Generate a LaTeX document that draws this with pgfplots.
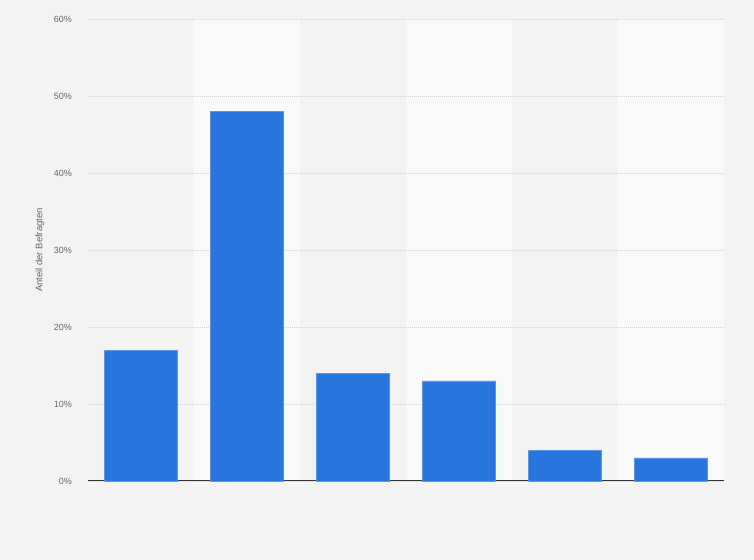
\documentclass[border=0pt]{standalone}
\usepackage{pgfplots}
\pgfplotsset{compat=1.18}
\usepackage{fontspec}
\setmainfont{Liberation Sans}

\definecolor{bgcol}{HTML}{F3F3F3}
\definecolor{bandcol}{HTML}{F9F9F9}
\definecolor{barcol}{HTML}{2876DD}
\definecolor{baredge}{HTML}{5A96E6}
\definecolor{gridcol}{HTML}{D2D2D2}
\definecolor{labcol}{HTML}{666666}

\begin{document}
\begin{tikzpicture}
  \begin{axis}[
      set layers,
      clip=false,
      scale only axis,
      width=636bp, height=462bp,
      xmin=-0.5, xmax=5.5,
      ymin=0, ymax=60,
      xtick=\empty,
      ytick={0,10,20,30,40,50,60},
      yticklabel={\pgfmathprintnumber{\tick}\%},
      /pgf/number format/assume math mode=true,
      major tick length=0pt,
      ymajorgrids,
      major grid style={dash pattern=on 1bp off 1bp, gridcol, line width=0.7bp},
      axis x line*=bottom,
      axis y line*=left,
      y axis line style={draw=none},
      x axis line style={-, draw=black!80, line width=1bp},
      tick label style={font=\fontsize{9}{10}\selectfont, text=labcol},
      yticklabel style={inner sep=0pt, xshift=-16bp},
      ylabel={Anteil der Befragten},
      every axis y label/.style={at={(axis description cs:0,0.5)},
        xshift=-48bp, rotate=90, anchor=center,
        font=\fontsize{9.5}{11}\selectfont, text=labcol},
    ]
    % page background
    \begin{pgfonlayer}{axis background}
      \fill[bgcol] ([xshift=-88bp,yshift=-79bp]rel axis cs:0,0)
        rectangle ([xshift=30bp,yshift=19bp]rel axis cs:1,1);
    \end{pgfonlayer}
    % alternating column bands
    \addplot[on layer=axis background, ybar, bar width=1, bar shift=0pt,
      fill=bandcol, draw=none] coordinates {(1,60) (3,60) (5,60)};
    % survey shares
    \addplot[ybar, bar width=0.689, bar shift=0pt, fill=barcol,
      draw=baredge, line width=0.6bp] coordinates {
      (0,17) (1,48) (2,14) (3,13) (4,4) (5,3)
    };
  \end{axis}
\end{tikzpicture}
\end{document}
